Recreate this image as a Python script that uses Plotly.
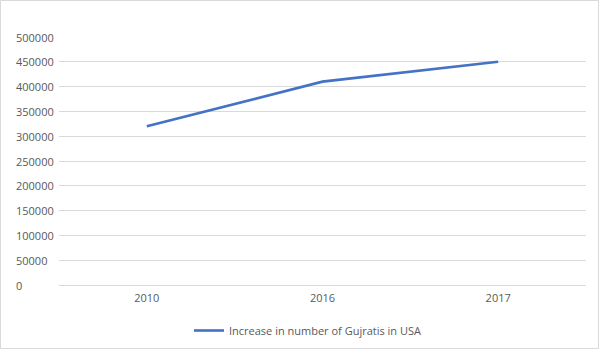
import plotly.graph_objects as go

years = ["2010", "2016", "2017"]
gujratis = [320000, 410000, 450000]
series_name = "Increase in number of Gujratis in USA"
y_ticks = [0, 50000, 100000, 150000, 200000, 250000, 300000, 350000, 400000, 450000, 500000]

W, H = 600, 350
ml, mr, mt, mb = 59, 14, 37, 65
font = "Open Sans, Liberation Sans, sans-serif"
tick_color = "#595959"

fig = go.Figure()
fig.add_trace(go.Scatter(
    x=years, y=gujratis, mode="lines", name=series_name,
    line=dict(color="#4472C4", width=2.6),
))

pw = W - ml - mr
ph = H - mt - mb
annotations = []
for t in y_ticks:
    annotations.append(dict(
        x=(14 - ml) / pw, xref="paper", y=t, yref="y",
        text=str(t), showarrow=False, xanchor="left", yanchor="middle",
        font=dict(family=font, size=11, color=tick_color),
    ))

fig.update_layout(
    width=W, height=H,
    margin=dict(l=ml, r=mr, t=mt, b=mb, autoexpand=False),
    paper_bgcolor="white", plot_bgcolor="white",
    showlegend=True,
    legend=dict(orientation="h", x=0.5 - 15 / pw, xanchor="center", y=-31 / ph, yanchor="top",
                font=dict(family=font, size=11, color=tick_color)),
    xaxis=dict(type="category", range=[-0.5, 2.5], showgrid=False, showline=False,
               ticks="", ticklabelstandoff=5,
               tickfont=dict(family=font, size=11, color=tick_color)),
    yaxis=dict(range=[0, 500000], tickvals=y_ticks, showticklabels=False,
               gridcolor="#d9d9d9", gridwidth=1, zeroline=True,
               zerolinecolor="#d9d9d9", zerolinewidth=1, showline=False),
    annotations=annotations,
    shapes=[dict(type="rect", xref="paper", yref="paper",
                 x0=(0.5 - ml) / pw, x1=(W - 1.5 - ml) / pw,
                 y0=-(mb - 1.5) / ph, y1=1 + (mt - 0.5) / ph,
                 line=dict(color="#d9d9d9", width=1))],
)

fig.write_html("out.html")
